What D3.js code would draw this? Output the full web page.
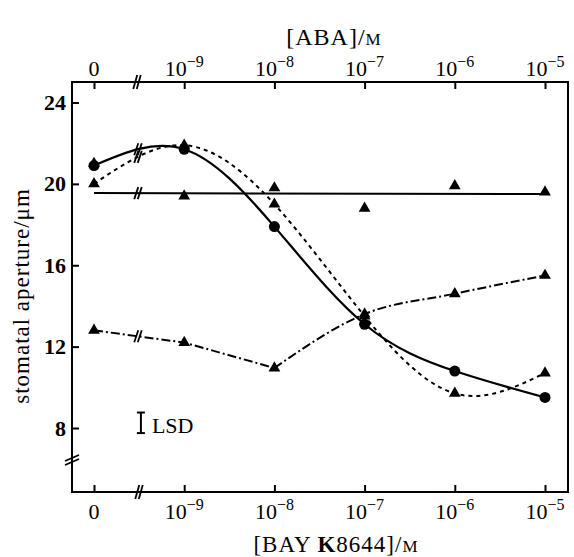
<!DOCTYPE html>
<html>
<head>
<meta charset="utf-8">
<script src="https://cdn.jsdelivr.net/npm/d3@7"></script>
<style>
  body { margin: 0; background: #fff; }
  svg { font-family: "Liberation Serif", "DejaVu Serif", serif; }
</style>
</head>
<body>
<div id="chart"></div>
<script>
// concentration steps (index along x), exponent of 10, null = zero
const concSteps = [0, 1, 2, 3, 4, 5]
const concExponents = [null, -9, -8, -7, -6, -5]
const yTicks = [8, 12, 16, 20, 24]

// stomatal aperture (um)
const apertureCircles = [20.9, 21.7, 17.9, 13.1, 10.8, 9.5]
const apertureDotted = [20.0, 21.9, 19.0, 13.5, 9.7, 10.7]
const apertureFlat = [21.0, 19.4, 19.8, 18.8, 19.9, 19.6]
const apertureDashDot = [12.8, 12.2, 10.95, 13.6, 14.6, 15.5]
const flatFit = [19.55, 19.5]   // straight line, first and last step
const lsdValue = [7.75, 8.76]   // LSD bar, low/high
const lsdStep = 0.52

const W = 574, H = 557
const frame = {left: 72, right: 568, top: 82, bottom: 492}

const svg = d3.select('#chart').append('svg')
    .attr('width', W)
    .attr('height', H)

const x = d3.scaleLinear().domain([0, 5]).range([94, 545])
const y = d3.scaleLinear().domain([8, 24]).range([428, 102.5])

// frame
svg.append('rect')
    .attr('x', frame.left).attr('y', frame.top)
    .attr('width', frame.right - frame.left)
    .attr('height', frame.bottom - frame.top)
    .attr('fill', 'none')
    .attr('stroke', '#000')
    .attr('stroke-width', 2)

// axes (ticks inward)
const topAxis = svg.append('g')
    .attr('transform', `translate(0,${frame.top})`)
    .call(d3.axisTop(x).tickValues(concSteps).tickSize(-7).tickSizeOuter(0).tickFormat(''))
const bottomAxis = svg.append('g')
    .attr('transform', `translate(0,${frame.bottom})`)
    .call(d3.axisBottom(x).tickValues(concSteps).tickSize(-7).tickSizeOuter(0).tickFormat(''))
const leftAxis = svg.append('g')
    .attr('transform', `translate(${frame.left},0)`)
    .call(d3.axisLeft(y).tickValues(yTicks).tickSize(-7).tickSizeOuter(0).tickPadding(6))

for (const ax of [topAxis, bottomAxis, leftAxis]) {
    ax.select('.domain').remove()
    ax.selectAll('line').attr('stroke-width', 2)
}
leftAxis.selectAll('text')
    .attr('font-size', 22)
    .attr('font-weight', 'bold')
    .attr('font-family', '"Liberation Serif", serif')
    .attr('fill', '#000')

function concLabel(sel, baseY) {
    sel.selectAll('text.conc')
        .data(concSteps)
        .join('text')
        .attr('class', 'conc')
        .attr('x', d => x(d))
        .attr('y', baseY)
        .attr('text-anchor', 'middle')
        .attr('font-size', 22)
        .each(function (d, i) {
            const t = d3.select(this)
            const e = concExponents[i]
            if (e === null) { t.text('0'); return }
            t.append('tspan').text('10')
            t.append('tspan').attr('font-size', 16).attr('dy', -9).text('\u2212' + Math.abs(e))
        })
}
concLabel(svg.append('g'), 76)
concLabel(svg.append('g'), 519)

// axis titles
const topTitle = svg.append('text')
    .attr('x', 334).attr('y', 45)
    .attr('text-anchor', 'middle')
    .attr('font-size', 24)
    .attr('letter-spacing', 1)
topTitle.append('tspan').text('[ABA]/')
topTitle.append('tspan').attr('font-size', 17).text('M')

const bottomTitle = svg.append('text')
    .attr('x', 336).attr('y', 552)
    .attr('text-anchor', 'middle')
    .attr('font-size', 23)
    .attr('letter-spacing', 1)
bottomTitle.append('tspan').text('[BAY ')
bottomTitle.append('tspan').attr('font-weight', 'bold').text('K')
bottomTitle.append('tspan').text('8644]/')
bottomTitle.append('tspan').attr('font-size', 17).text('M')

svg.append('text')
    .attr('transform', 'translate(29,296) rotate(-90)')
    .attr('text-anchor', 'middle')
    .attr('font-size', 23)
    .attr('letter-spacing', 1)
    .text('stomatal aperture/\u03bcm')

// curves
const lineNatural = d3.line().x((d, i) => x(concSteps[i])).y(d => y(d)).curve(d3.curveNatural)
const plot = svg.append('g')

const solidPath = plot.append('path')
    .attr('d', lineNatural(apertureCircles))
    .attr('fill', 'none').attr('stroke', '#000').attr('stroke-width', 2.2)

const dottedPath = plot.append('path')
    .attr('d', lineNatural(apertureDotted))
    .attr('fill', 'none').attr('stroke', '#000').attr('stroke-width', 2)
    .attr('stroke-dasharray', '4 4')

const flatPath = plot.append('path')
    .attr('d', d3.line().x((d, i) => x(i === 0 ? 0 : 5)).y(d => y(d))(flatFit))
    .attr('fill', 'none').attr('stroke', '#000').attr('stroke-width', 2)

// dash-dot: kink at 1e-8, smooth rise after it
const ddLine = d3.line().x(d => x(d[0])).y(d => y(d[1]))
const ddPts = apertureDashDot.map((v, i) => [concSteps[i], v])
const ddPath1 = plot.append('path')
    .attr('d', ddLine.curve(d3.curveLinear)(ddPts.slice(0, 3)))
const ddPath2 = plot.append('path')
    .attr('d', ddLine.curve(d3.curveMonotoneX)(ddPts.slice(2)))
for (const p of [ddPath1, ddPath2]) {
    p.attr('fill', 'none').attr('stroke', '#000').attr('stroke-width', 2)
        .attr('stroke-dasharray', '9 3 2 3')
}

// break marks "//"
function slashPair(cx, cy, dx, dy, gap) {
    const g = svg.append('g')
    for (const s of [-gap / 2, gap / 2]) {
        g.append('line')
            .attr('x1', cx + s - dx).attr('y1', cy + dy)
            .attr('x2', cx + s + dx).attr('y2', cy - dy)
            .attr('stroke', '#000').attr('stroke-width', 1.8)
    }
}
function yOnPath(path, px) {
    const node = path.node()
    const len = node.getTotalLength()
    let best = null
    for (let l = 0; l <= len; l += 0.5) {
        const p = node.getPointAtLength(l)
        if (best === null || Math.abs(p.x - px) < Math.abs(best.x - px)) best = p
    }
    return best.y
}
const breakX = 138
for (const p of [solidPath, dottedPath, flatPath, ddPath1]) {
    slashPair(breakX, yOnPath(p, breakX), 2, 6, 3.5)
}
slashPair(breakX - 1, frame.top, 2, 7, 3.5)
slashPair(breakX + 1, frame.bottom, 2, 7, 3.5)
// left axis break
const lb = svg.append('g')
for (const s of [-2, 2]) {
    lb.append('line')
        .attr('x1', frame.left - 7).attr('y1', 460 + s + 3)
        .attr('x2', frame.left + 7).attr('y2', 460 + s - 3)
        .attr('stroke', '#000').attr('stroke-width', 1.8)
}

// markers
const tri = d3.symbol().type(d3.symbolTriangle).size(60)
function triangles(data) {
    plot.selectAll(null)
        .data(data)
        .join('path')
        .attr('d', tri)
        .attr('transform', (d, i) => `translate(${x(concSteps[i])},${y(d)})`)
        .attr('fill', '#000')
}
triangles(apertureFlat)
triangles(apertureDotted)
triangles(apertureDashDot)
plot.selectAll(null)
    .data(apertureCircles)
    .join('circle')
    .attr('cx', (d, i) => x(concSteps[i]))
    .attr('cy', d => y(d))
    .attr('r', 5.5)
    .attr('fill', '#000')

// LSD bar
const lx = x(lsdStep)
const lsd = svg.append('g').attr('stroke', '#000').attr('stroke-width', 2)
lsd.append('line').attr('x1', lx).attr('x2', lx).attr('y1', y(lsdValue[0])).attr('y2', y(lsdValue[1]))
lsd.append('line').attr('x1', lx - 4).attr('x2', lx + 4).attr('y1', y(lsdValue[0])).attr('y2', y(lsdValue[0]))
lsd.append('line').attr('x1', lx - 4).attr('x2', lx + 4).attr('y1', y(lsdValue[1])).attr('y2', y(lsdValue[1]))
svg.append('text')
    .attr('x', lx + 11).attr('y', y(lsdValue[0]))
    .attr('font-size', 22)
    .text('LSD')
</script>
</body>
</html>
